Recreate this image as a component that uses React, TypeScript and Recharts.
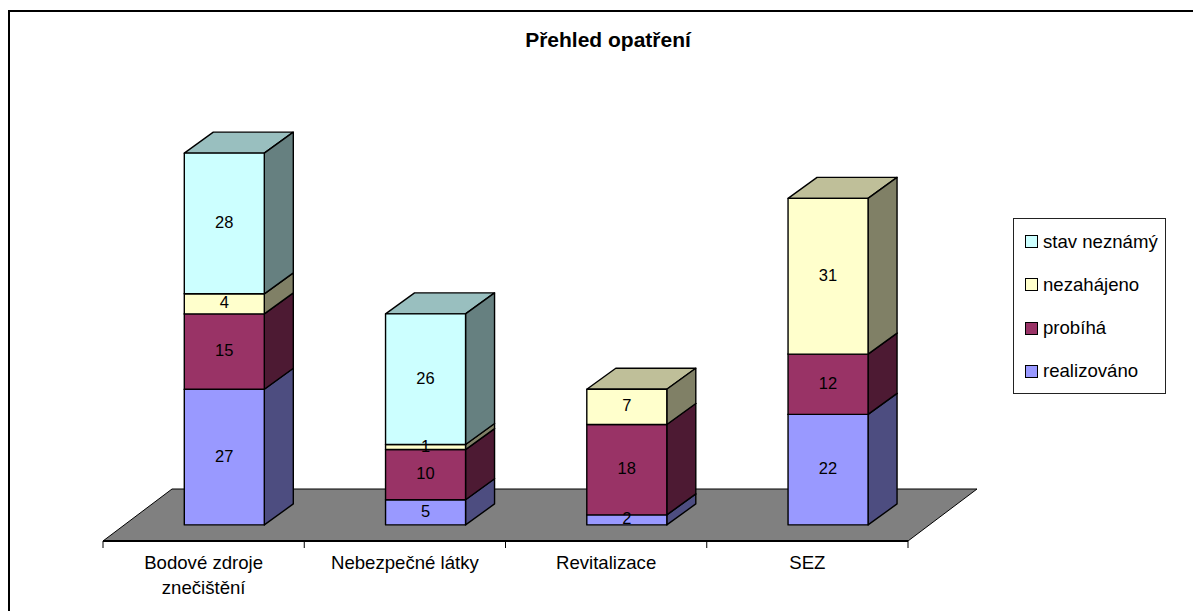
import { BarChart, Bar, XAxis, YAxis, Legend, LabelList, Customized } from "recharts"

const categories = ["Bodové zdroje\nznečištění", "Nebezpečné látky", "Revitalizace", "SEZ"]
const realizovano = [27, 5, 2, 22]
const probiha = [15, 10, 18, 12]
const nezahajeno = [4, 1, 7, 31]
const stavNeznamy = [28, 26, null, null]

const data = categories.map((name, i) => ({
  name,
  realizováno: realizovano[i],
  probíhá: probiha[i],
  nezahájeno: nezahajeno[i],
  "stav neznámý": stavNeznamy[i],
}))

const FONT = "'Liberation Sans', Arial, sans-serif"
const WIDTH = 1193
const HEIGHT = 611
const AXIS_HEIGHT = 70
const margin = { top: 123, right: 285, bottom: 0, left: 103 }
const plotWidth = WIDTH - margin.left - margin.right
const axisY = HEIGHT - AXIS_HEIGHT

// fake 3d depth of the bars and of the floor
const DX = 29
const DY = 21
const SHIFT = 20.3
const FLOOR_DX = 69
const FLOOR_DY = 52

const Prism = ({ x, y, width, height, fill, side, top }: any) => {
  if (!height) return null
  const left = x + SHIFT
  const right = left + width
  return (
    <g stroke="#000" strokeWidth={1.4} strokeLinejoin="round">
      <polygon fill={top} points={`${left},${y} ${left + DX},${y - DY} ${right + DX},${y - DY} ${right},${y}`} />
      <polygon fill={side} points={`${right},${y} ${right + DX},${y - DY} ${right + DX},${y + height - DY} ${right},${y + height}`} />
      <rect x={left} y={y} width={width} height={height} fill={fill} />
    </g>
  )
}

const ValueLabel = ({ x, y, width, height, value }: any) => {
  if (value == null) return null
  return (
    <text
      x={x + SHIFT + width / 2}
      y={y + height / 2 - 1.5}
      textAnchor="middle"
      dominantBaseline="central"
      fontFamily={FONT}
      fontSize={16.5}
      fill="#000"
    >
      {value}
    </text>
  )
}

const CategoryTick = ({ x, y, payload, index }: any) => {
  const band = plotWidth / categories.length
  const lines = String(payload.value).split("\n")
  return (
    <g>
      <line x1={x - band / 2} x2={x - band / 2} y1={axisY} y2={axisY + 7} stroke="#000" />
      {index === categories.length - 1 && (
        <line x1={x + band / 2} x2={x + band / 2} y1={axisY} y2={axisY + 7} stroke="#000" />
      )}
      {lines.map((line, i) => (
        <text key={i} x={x} y={axisY + 28 + i * 25} textAnchor="middle" fontFamily={FONT} fontSize={18.6} fill="#000">
          {line}
        </text>
      ))}
    </g>
  )
}

const Floor = () => {
  const l = margin.left
  const r = margin.left + plotWidth
  return (
    <g>
      <polygon
        fill="#808080"
        stroke="#000"
        strokeWidth={1}
        points={`${l},${axisY} ${l + FLOOR_DX},${axisY - FLOOR_DY} ${r + FLOOR_DX},${axisY - FLOOR_DY} ${r},${axisY}`}
      />
      <line x1={l} x2={r} y1={axisY} y2={axisY} stroke="#000" strokeWidth={2} />
      <text x={608} y={47} textAnchor="middle" fontFamily={FONT} fontWeight="bold" fontSize={21} fill="#000">
        Přehled opatření
      </text>
    </g>
  )
}

const LegendBox = ({ payload }: any) => (
  <div
    style={{
      boxSizing: "border-box",
      width: 153,
      height: 176,
      border: "1px solid #222",
      background: "#fff",
      padding: "1px 0 0 11px",
      display: "flex",
      flexDirection: "column",
      justifyContent: "space-around",
      fontFamily: FONT,
      fontSize: 18.6,
    }}
  >
    {[...(payload || [])].reverse().map((item: any) => (
      <div key={item.value} style={{ display: "flex", alignItems: "center", gap: 5, color: "#000" }}>
        <span style={{ width: 11, height: 11, background: item.color, border: "1px solid #000" }} />
        {item.value}
      </div>
    ))}
  </div>
)

const barProps = { stackId: "a", barSize: 80, isAnimationActive: false }
const series = [
  { key: "realizováno", fill: "#9999ff", side: "#4d4d80", top: "#7373bf" },
  { key: "probíhá", fill: "#993366", side: "#4d1a33", top: "#73264d" },
  { key: "nezahájeno", fill: "#ffffcc", side: "#808066", top: "#bfbf99" },
  { key: "stav neznámý", fill: "#ccffff", side: "#668080", top: "#99bfbf" },
]

export default function App() {
  return (
    <div style={{ position: "fixed", left: 0, top: 0, width: WIDTH, height: HEIGHT, overflow: "hidden", background: "#fff" }}>
      <div style={{ position: "absolute", left: 8, top: 10, right: 0, bottom: 0, borderLeft: "2px solid #000", borderTop: "2px solid #000" }} />
      <div style={{ position: "absolute", left: 0, top: 0 }}>
        <BarChart width={WIDTH} height={HEIGHT} data={data} margin={margin} style={{ background: "transparent" }}>
          <Customized component={Floor} />
          <XAxis dataKey="name" axisLine={false} tickLine={false} tick={CategoryTick} interval={0} height={AXIS_HEIGHT} />
          <YAxis hide domain={[-3.2, 80]} allowDataOverflow />
          <Legend
            layout="vertical"
            align="center"
            verticalAlign="middle"
            itemSorter={null}
            content={LegendBox}
            wrapperStyle={{ left: 1013, top: 218, width: 153, height: 176 }}
          />
          {series.map((s) => (
            <Bar
              key={s.key}
              dataKey={s.key}
              fill={s.fill}
              {...barProps}
              shape={(p: any) => <Prism {...p} side={s.side} top={s.top} />}
            >
              <LabelList dataKey={s.key} content={ValueLabel} />
            </Bar>
          ))}
        </BarChart>
      </div>
    </div>
  )
}
